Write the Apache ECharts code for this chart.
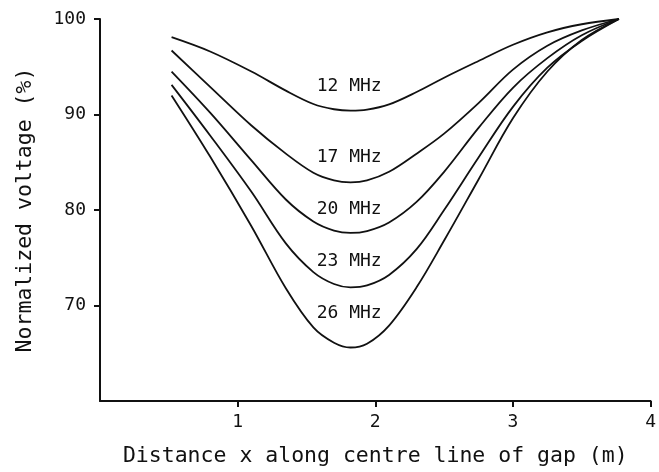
<!DOCTYPE html>
<html>
<head>
<meta charset="utf-8">
<script src="https://cdn.jsdelivr.net/npm/echarts@6/dist/echarts.min.js"></script>
<style>
  html, body { margin: 0; padding: 0; background: #fff; }
  #chart { width: 659px; height: 472px; }
</style>
</head>
<body>
<div id="chart"></div>
<script>
// distance along the centre line (m)
var distance = [0.52, 0.8, 1.1, 1.35, 1.55, 1.7, 1.82, 1.94, 2.1, 2.3, 2.5, 2.75, 3.0, 3.25, 3.5, 3.77];

// normalized voltage (%) per frequency
var v12 = [98.1, 96.6, 94.5, 92.5, 91.1, 90.55, 90.4, 90.5, 91.05, 92.35, 93.85, 95.6, 97.3, 98.6, 99.45, 100];
var v17 = [96.7, 92.9, 88.85, 85.9, 83.9, 83.1, 82.9, 83.1, 84.0, 85.9, 88.0, 91.2, 94.7, 97.2, 98.8, 100];
var v20 = [94.5, 90.2, 85.2, 81.1, 78.8, 77.85, 77.6, 77.8, 78.7, 80.85, 84.0, 88.6, 92.8, 95.9, 98.3, 100];
var v23 = [93.1, 87.8, 81.9, 76.5, 73.5, 72.25, 71.9, 72.1, 73.2, 75.9, 80.0, 85.5, 90.8, 94.9, 97.7, 100];
var v26 = [92.0, 85.6, 78.3, 71.8, 67.7, 66.1, 65.6, 66.0, 67.9, 71.9, 76.8, 83.2, 89.6, 94.5, 97.8, 100];

var curveNames = ['12 MHz', '17 MHz', '20 MHz', '23 MHz', '26 MHz'];
var curveValues = [v12, v17, v20, v23, v26];

// where the curve labels sit
var labelX = [1.81, 1.81, 1.81, 1.81, 1.81];
var labelY = [93.0, 85.5, 80.1, 74.6, 69.2];

var xTicks = [1, 2, 3, 4];
var yTicks = [70, 80, 90, 100];

var font = 'DejaVu Sans Mono';
var ink = '#111';

var chart = echarts.init(document.getElementById('chart'));

var series = curveValues.map(function (vals, i) {
    return {
        name: curveNames[i],
        type: 'line',
        smooth: 0.35,
        symbol: 'none',
        lineStyle: { color: ink, width: 1.8 },
        data: distance.map(function (d, j) { return [d, vals[j]]; })
    };
});

// curve labels
series.push({
    type: 'scatter',
    symbolSize: 0,
    silent: true,
    itemStyle: { color: ink, opacity: 1 },
    label: {
        show: true,
        position: 'inside',
        formatter: function (p) { return p.data[2]; },
        fontFamily: font,
        fontSize: 18,
        color: ink,
        opacity: 1,
        textBorderColor: 'transparent',
        textBorderWidth: 0
    },
    data: curveNames.map(function (n, i) { return [labelX[i], labelY[i], n]; })
});

chart.setOption({
    backgroundColor: '#fff',
    animation: false,
    grid: { left: 100, right: 7, top: 19, bottom: 65 },
    xAxis: {
        type: 'value',
        min: 0,
        max: 4,
        interval: 1,
        name: 'Distance x along centre line of gap (m)',
        nameLocation: 'middle',
        nameGap: 44,
        nameTextStyle: { fontFamily: font, fontSize: 21.5, color: ink },
        axisLine: { lineStyle: { color: ink, width: 2 } },
        axisTick: { customValues: xTicks, length: 6, lineStyle: { color: ink, width: 2 } },
        axisLabel: { customValues: xTicks, margin: 12, fontFamily: font, fontSize: 18, color: ink },
        splitLine: { show: false }
    },
    yAxis: {
        type: 'value',
        min: 60,
        max: 100,
        interval: 10,
        name: 'Normalized voltage (%)',
        nameLocation: 'middle',
        nameGap: 64,
        nameTextStyle: { fontFamily: font, fontSize: 21.5, color: ink },
        axisLine: { show: true, lineStyle: { color: ink, width: 2 } },
        axisTick: { show: true, customValues: yTicks, length: 6, lineStyle: { color: ink, width: 2 } },
        axisLabel: { customValues: yTicks, margin: 14, fontFamily: font, fontSize: 18, color: ink },
        splitLine: { show: false }
    },
    series: series
});
</script>
</body>
</html>
